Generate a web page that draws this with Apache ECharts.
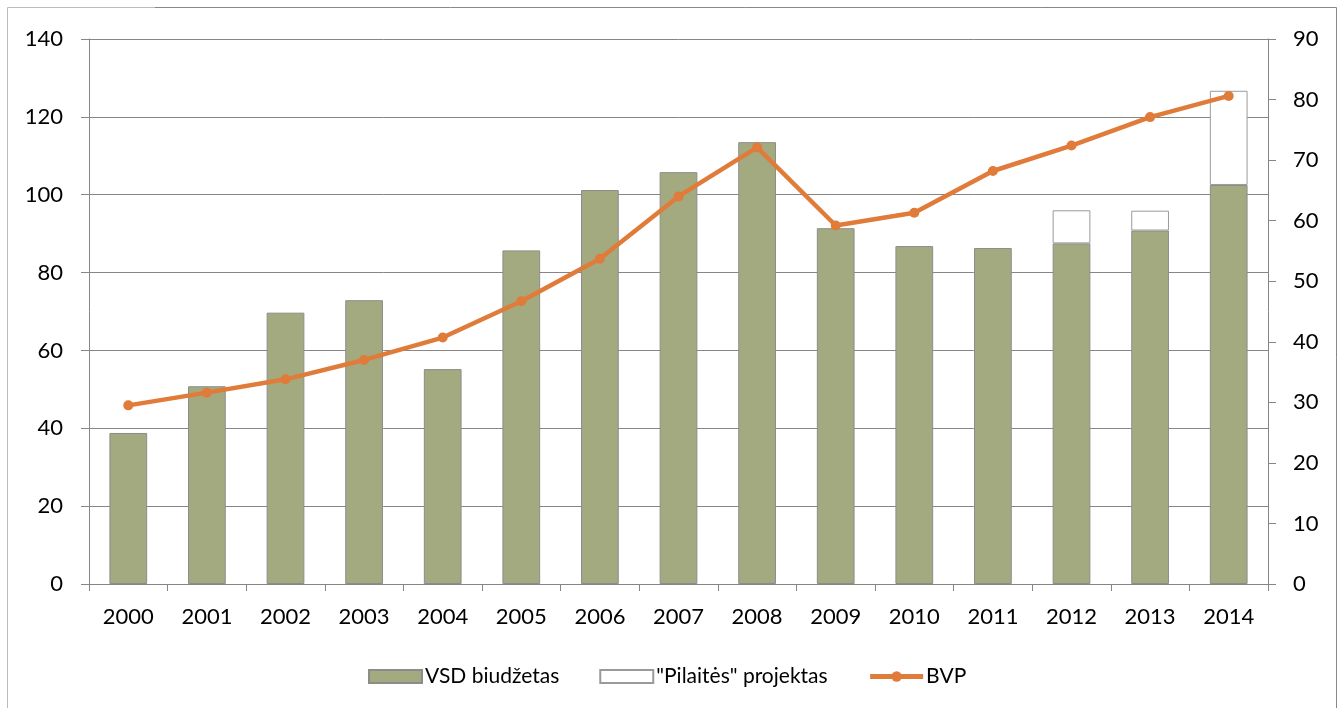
<!DOCTYPE html>
<html><head><meta charset="utf-8">
<script src="https://cdn.jsdelivr.net/npm/echarts@6/dist/echarts.min.js"></script>
<style>html,body{margin:0;padding:0;background:#fff}#c{width:1341px;height:708px}</style>
</head><body><div id="c"></div>
<script>
const years = ['2000','2001','2002','2003','2004','2005','2006','2007','2008','2009','2010','2011','2012','2013','2014'];
const vsd = [38.8,50.8,69.7,72.9,55.2,85.7,101.2,105.8,113.5,91.4,86.8,86.3,87.5,90.8,102.5];
const pilaites = [0,0,0,0,0,0,0,0,0,0,0,0,8.5,5.1,24.2];
const bvp = [29.5,31.6,33.8,37.0,40.7,46.7,53.7,64.0,72.1,59.2,61.3,68.2,72.4,77.1,80.6];
const names = ['VSD biudžetas','"Pilaitės" projektas','BVP'];

const FONT = 'Lato';
const chart = echarts.init(document.getElementById('c'), null, {renderer:'canvas'});
const axisLineStyle = {color:'#868686', width:1};
chart.setOption({
  animation:false,
  textStyle:{fontFamily:FONT},
  graphic:[
    {type:'polyline', shape:{points:[[7.5,708],[7.5,7.5],[155,7.5]]}, style:{stroke:'#bbbbbb',lineWidth:1,fill:null}},
    {type:'polyline', shape:{points:[[155,7.5],[1336.5,7.5],[1336.5,708]]}, style:{stroke:'#888888',lineWidth:1,fill:null}}
  ],
  grid:{left:89,right:73,top:39,bottom:124},
  legend:{
    top:661, left:363, itemWidth:53, itemHeight:13, itemGap:40,
    textStyle:{fontSize:21,color:'#000',fontFamily:FONT,padding:[0,0,0,-2]},
    data:[
      {name:names[0], icon:'rect'},
      {name:names[1], icon:'rect'},
      {name:names[2], lineStyle:{width:5}}
    ]
  },
  xAxis:{
    type:'category', data:years,
    axisLine:{lineStyle:axisLineStyle},
    axisTick:{show:true,length:7,lineStyle:axisLineStyle,alignWithLabel:false},
    axisLabel:{color:'#000',fontSize:22,margin:22,fontFamily:FONT}
  },
  yAxis:[
    {type:'value',min:0,max:140,interval:20,position:'left',
     axisLine:{show:true,lineStyle:axisLineStyle},
     axisTick:{show:true,length:8,lineStyle:axisLineStyle},
     splitLine:{lineStyle:{color:'#868686',width:1}},
     axisLabel:{color:'#000',fontSize:22,margin:26,fontFamily:FONT}},
    {type:'value',min:0,max:90,interval:10,position:'right',
     axisLine:{show:true,lineStyle:axisLineStyle},
     axisTick:{show:true,length:8,lineStyle:axisLineStyle},
     splitLine:{show:false},
     axisLabel:{color:'#000',fontSize:22,margin:25,fontFamily:FONT}}
  ],
  series:[
    {name:names[0],type:'bar',stack:'a',yAxisIndex:0,data:vsd,barCategoryGap:'52%',
     itemStyle:{color:'#A4AA80',borderColor:'#8c8c8c',borderWidth:1}},
    {name:names[1],type:'bar',stack:'a',yAxisIndex:0,
     data:pilaites.map(v=>v===0?null:v),
     itemStyle:{color:'#ffffff',borderColor:'#9a9a9a',borderWidth:1}},
    {name:names[2],type:'line',yAxisIndex:1,data:bvp,
     symbol:'circle',symbolSize:10,
     lineStyle:{color:'#E07B39',width:4.5},
     itemStyle:{color:'#E07B39'}}
  ]
});
</script></body></html>
